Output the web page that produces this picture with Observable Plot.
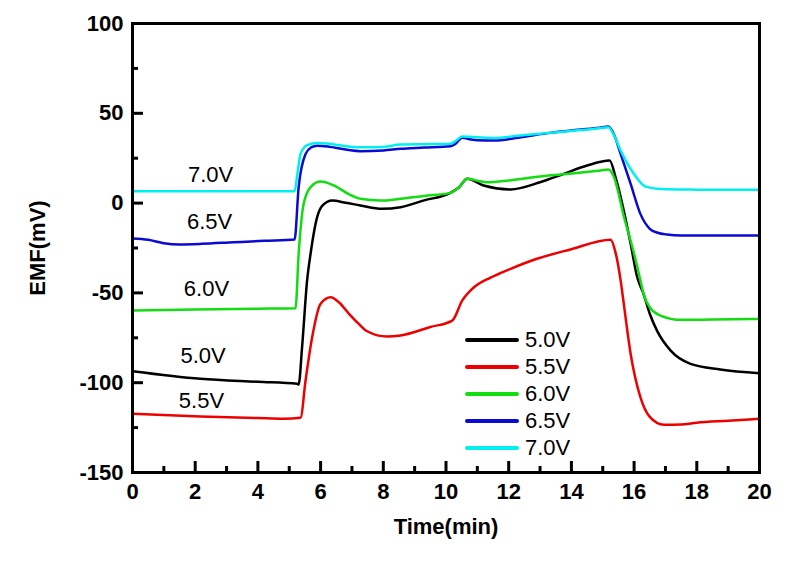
<!DOCTYPE html>
<html><head><meta charset="utf-8">
<script src="https://cdn.jsdelivr.net/npm/d3@7"></script>
<script src="https://cdn.jsdelivr.net/npm/@observablehq/plot@0.6"></script>
<style>
body{margin:0;background:#fff;}
#wrap{position:relative;width:805px;height:561px;}
#legend{position:absolute;left:465px;top:327px;font-family:Arial,"Liberation Sans",sans-serif;font-size:22px;color:#000;}
.row{display:flex;align-items:center;height:26.9px;}
.sw{width:54px;height:4px;border-radius:2px;margin-right:6px;}
</style></head><body><div id="wrap"></div>
<script>
const seriesNames = ["5.0V", "5.5V", "6.0V", "6.5V", "7.0V"];
const seriesColors = ["#000000", "#ee0000", "#11dd11", "#0a0ad2", "#00f0f0"];

const t50 = [0, 2.17, 4, 5.25, 5.3, 5.41, 5.57, 5.68, 5.89, 6.05, 6.37, 6.8, 7.27, 7.96, 8.55, 9.3, 10.14, 10.4, 10.68, 11.2, 12.06, 13.0, 13.76, 14.5, 15.22, 15.41, 15.67, 15.89, 16.1, 16.3, 16.5, 16.73, 17.16, 17.8, 18.75, 20];
const v50 = [-93.6, -97.8, -99.5, -100.6, -101, -80, -43, -28.2, -7.8, -1.5, 1.4, 0.2, -1.3, -3.2, -2.3, 1.5, 5.7, 8.5, 13.5, 9.8, 7.6, 11.6, 16.3, 20.9, 23.7, 14.4, -4.1, -22.7, -41.3, -50.5, -61.6, -71, -82, -89.5, -92.6, -94.7];

const t55 = [0, 2.17, 4, 4.83, 5.36, 5.52, 5.73, 6.0, 6.32, 6.6, 6.9, 7.2, 7.5, 8.12, 8.55, 9.5, 10.2, 10.52, 10.84, 11.42, 12.06, 12.9, 13.97, 15.25, 15.4, 15.57, 15.67, 15.89, 16.2, 16.5, 16.95, 17.5, 18, 19, 20];
const v55 = [-117.3, -118.8, -119.7, -120.1, -119.5, -98.8, -74.7, -56, -52.4, -55.5, -61.5, -67, -71.5, -74.3, -73.7, -69, -65.4, -54.2, -47.7, -41.5, -36.6, -31, -25.8, -20.4, -27, -43, -56, -84, -108, -119, -123.4, -123.3, -122.3, -121.2, -120.1];

const t60 = [0, 2, 4, 5.2, 5.3, 5.46, 5.68, 6.0, 6.4, 6.9, 7.27, 7.9, 8.55, 9.3, 10.14, 10.4, 10.68, 11.0, 11.3, 12.0, 12.8, 13.9, 14.93, 15.18, 15.36, 15.68, 16.0, 16.2, 16.3, 16.5, 16.84, 17.5, 18.5, 20];
const v60 = [-59.8, -59.3, -58.8, -58.5, -28.2, -0.4, 8.9, 12, 10, 5, 2.4, 1.4, 2.4, 4, 5.7, 8.5, 13.5, 12.5, 11.6, 12.6, 14.4, 16.3, 18.2, 18.7, 14.4, -7.9, -28.2, -43, -50.5, -58, -62.6, -65, -64.8, -64.5];

const t65 = [0, 0.5, 1.0, 1.5, 2.2, 3.23, 4.2, 5.17, 5.3, 5.52, 5.7, 5.89, 6.3, 6.8, 7.27, 8.0, 8.55, 9.3, 10.14, 10.3, 10.52, 10.75, 11.0, 11.53, 12.3, 13.3, 14.2, 14.9, 15.18, 15.35, 15.57, 15.89, 16.2, 16.5, 16.75, 17.05, 17.5, 18.5, 20];
const v65 = [-19.7, -20.4, -22.3, -23, -22.7, -21.8, -21, -20.3, 8.9, 27.4, 31, 32, 31.3, 29.8, 28.9, 29.3, 30.2, 30.9, 31.7, 33, 36.4, 35.6, 35, 34.9, 36.4, 39.1, 40.8, 42, 42.6, 38.5, 27.4, 10.7, -6, -14.3, -16.5, -17.5, -18, -18, -18];

const t70 = [0, 2, 4, 5.17, 5.25, 5.36, 5.5, 5.7, 5.89, 6.2, 6.6, 7.27, 8.0, 8.55, 9.3, 10.14, 10.3, 10.52, 10.75, 11.0, 11.53, 12.3, 13.3, 14.2, 14.9, 15.18, 15.35, 15.57, 15.8, 15.99, 16.15, 16.3, 16.5, 16.73, 17.1, 18, 19, 20];
const v70 = [6.6, 6.6, 6.6, 6.6, 15, 27.4, 31.5, 33, 33.4, 33.2, 32.2, 31.1, 31.3, 32.6, 32.8, 33, 34.5, 37.1, 36.9, 36.6, 36.3, 37.5, 39.1, 40.5, 41.7, 42.3, 38, 29.3, 21.5, 16.3, 12.6, 9.8, 8.6, 8.0, 7.7, 7.5, 7.4, 7.4];

const xTicks = [0, 2, 4, 6, 8, 10, 12, 14, 16, 18, 20];
const xMinor = [1, 3, 5, 7, 9, 11, 13, 15, 17, 19];
const yTicks = [-150, -100, -50, 0, 50, 100];
const yMinor = [-125, -75, -25, 25, 75];

const labelNames = ["7.0V", "6.5V", "6.0V", "5.0V", "5.5V"];
const labelT = [2.49, 2.46, 2.36, 2.25, 2.2];
const labelV = [15.4, -10.6, -47.7, -84.9, -109.9];

const times = [t50, t55, t60, t65, t70];
const vals = [v50, v55, v60, v65, v70];
const rows = seriesNames.flatMap((name, i) => times[i].map((t, j) => ({name, t, v: vals[i][j]})));
const labels = labelNames.map((text, i) => ({text, t: labelT[i], v: labelV[i]}));

const W = 805, H = 561, ML = 132, MR = 46, MT = 23, MB = 89;
const plotW = W - ML - MR, plotH = H - MT - MB;
const font = "Arial, 'Liberation Sans', sans-serif";
const chart = Plot.plot({
  width: W, height: H,
  marginLeft: ML, marginRight: MR, marginTop: MT, marginBottom: MB,
  style: {fontFamily: font, background: "white", color: "black"},
  x: {domain: [0, 20]},
  y: {domain: [-150, 100]},
  color: {domain: seriesNames, range: seriesColors},
  marks: [
    Plot.line(rows, {x: "t", y: "v", z: "name", stroke: "name", strokeWidth: 2.5, curve: "monotone-x"}),
    Plot.text(labels, {x: "t", y: "v", text: "text", fontSize: 22, fill: "black"}),
    Plot.ruleX(xTicks, {x: d => d, stroke: "black", strokeWidth: 3, insetTop: plotH - 11}),
    Plot.ruleX(xMinor, {x: d => d, stroke: "black", strokeWidth: 3, insetTop: plotH - 6}),
    Plot.ruleY(yTicks, {y: d => d, stroke: "black", strokeWidth: 3, insetRight: plotW - 11}),
    Plot.ruleY(yMinor, {y: d => d, stroke: "black", strokeWidth: 3, insetRight: plotW - 6}),
    Plot.frame({stroke: "black", strokeWidth: 3}),
    Plot.axisX(xTicks, {tickSize: 0, tickPadding: 11, fontSize: 22, fontWeight: "bold", label: null, tickFormat: d => String(d)}),
    Plot.axisY(yTicks, {tickSize: 0, tickPadding: 9, fontSize: 22, fontWeight: "bold", label: null, tickFormat: d => String(d)}),
    Plot.text(["Time(min)"], {frameAnchor: "bottom", dy: 61, text: d => d, fontSize: 22, fontWeight: "bold"}),
    Plot.text(["EMF(mV)"], {frameAnchor: "left", dx: -95, rotate: -90, textAnchor: "middle", text: d => d, fontSize: 22, fontWeight: "bold"})
  ]
});
const wrap = document.getElementById("wrap");
wrap.appendChild(chart);
const legend = document.createElement("div");
legend.id = "legend";
seriesNames.forEach((n, i) => {
  const row = document.createElement("div");
  row.className = "row";
  const sw = document.createElement("div");
  sw.className = "sw";
  sw.style.background = seriesColors[i];
  const tx = document.createElement("span");
  tx.textContent = n;
  row.appendChild(sw); row.appendChild(tx);
  legend.appendChild(row);
});
wrap.appendChild(legend);
</script></body></html>
